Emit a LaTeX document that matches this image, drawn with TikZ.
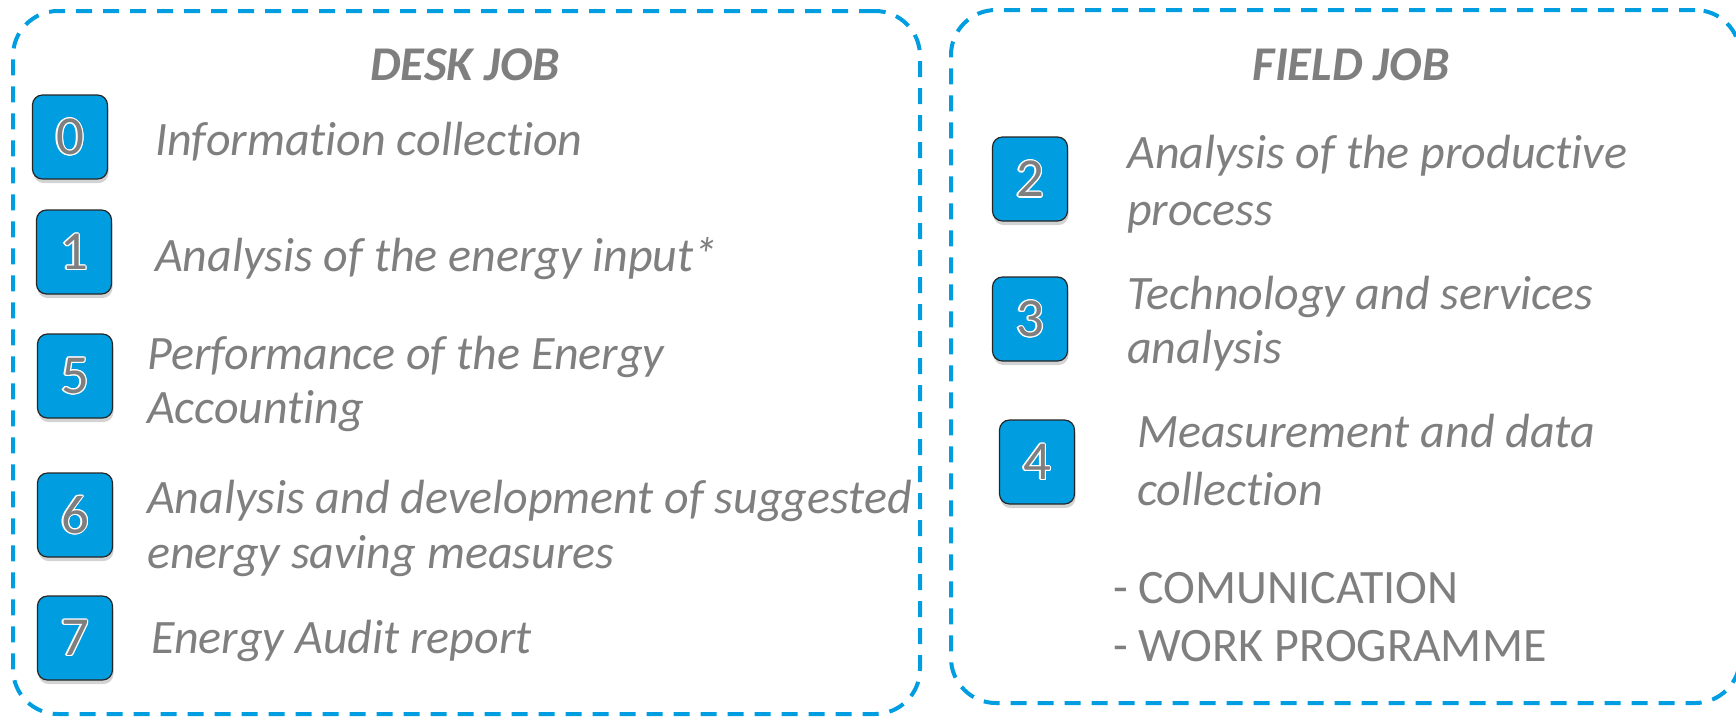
\documentclass[tikz,border=0pt]{standalone}
\usepackage{fontspec}
\setmainfont{Carlito}[Ligatures=NoCommon]
\usetikzlibrary{shadows,calc}
\definecolor{abblue}{RGB}{0,158,224}
\definecolor{abgray}{RGB}{127,127,127}
\tikzset{
 numbox/.style={draw=black!85, line width=1.2pt, fill=abblue, rounded corners=10pt,
   minimum width=75pt, minimum height=84pt, inner sep=0pt,
   drop shadow={shadow xshift=1pt, shadow yshift=-4pt, opacity=0.35}},
 numdigit/.style={inner sep=0pt, font=\fontsize{55}{60}\selectfont},
 itemtext/.style={anchor=base west, inner sep=0pt, text=abgray, font=\fontsize{48}{56}\selectfont\itshape},
 plaintext/.style={anchor=base west, inner sep=0pt, text=abgray, font=\fontsize{48}{56}\selectfont},
 headtext/.style={anchor=base, inner sep=0pt, text=abgray, font=\fontsize{48.5}{52}\selectfont\bfseries\itshape},
 frame/.style={draw=abblue, line width=4pt, dash pattern=on 16pt off 11pt, rounded corners=45pt, inner sep=0pt},
}
% #1 name, #2 position, #3 digit
\newcommand{\numitem}[3]{%
 \node[numbox] (#1) at (#2) {};
 \foreach \ang in {0,30,...,330}
   \node[numdigit, text=white] (#1o\ang) at ($(#1)+(\ang:1.2)$) {#3};
 \node[numdigit, text=abgray] (#1d) at (#1) {#3};
}
\begin{document}
\begin{tikzpicture}[x=1pt,y=-1pt]
\useasboundingbox (0,0) rectangle (1736,716);
\clip (0,0) rectangle (1736,716);
% frames
\node[frame, minimum width=907pt, minimum height=703pt] (desk) at (466.5,362.5) {};
\node[frame, minimum width=789pt, minimum height=693pt] (field) at (1345.5,356.5) {};
% headers
\node[headtext] (deskhead) at (465,80) {DESK JOB};
\node[headtext] (fieldhead) at (1351,80) {FIELD JOB};
% desk job items
\numitem{b0}{70,137}{0}
\node[itemtext] (t0) at (155,155) {Information collection};
\numitem{b1}{74,252}{1}
\node[itemtext] (t1) at (155,271) {Analysis of the energy input*};
\numitem{b5}{75,376}{5}
\node[itemtext] (t5a) at (147,369) {Performance of the Energy};
\node[itemtext] (t5b) at (147,423) {Accounting};
\numitem{b6}{75,515}{6}
\node[itemtext] (t6a) at (147,513) {Analysis and development of suggested};
\node[itemtext] (t6b) at (147,568) {energy saving measures};
\numitem{b7}{75,638}{7}
\node[itemtext] (t7) at (151,653) {Energy Audit report};
% field job items
\numitem{b2}{1030,179}{2}
\node[itemtext] (t2a) at (1127,168) {Analysis of the productive};
\node[itemtext] (t2b) at (1127,225) {process};
\numitem{b3}{1030,319}{3}
\node[itemtext] (t3a) at (1127,309) {Technology and services};
\node[itemtext] (t3b) at (1127,363) {analysis};
\numitem{b4}{1037,462}{4}
\node[itemtext] (t4a) at (1137,447) {Measurement and data};
\node[itemtext] (t4b) at (1137,505) {collection};
\node[plaintext] (c1) at (1113,603) {- COMUNICATION};
\node[plaintext] (c2) at (1113,661) {- WORK PROGRAMME};
\end{tikzpicture}
\end{document}
